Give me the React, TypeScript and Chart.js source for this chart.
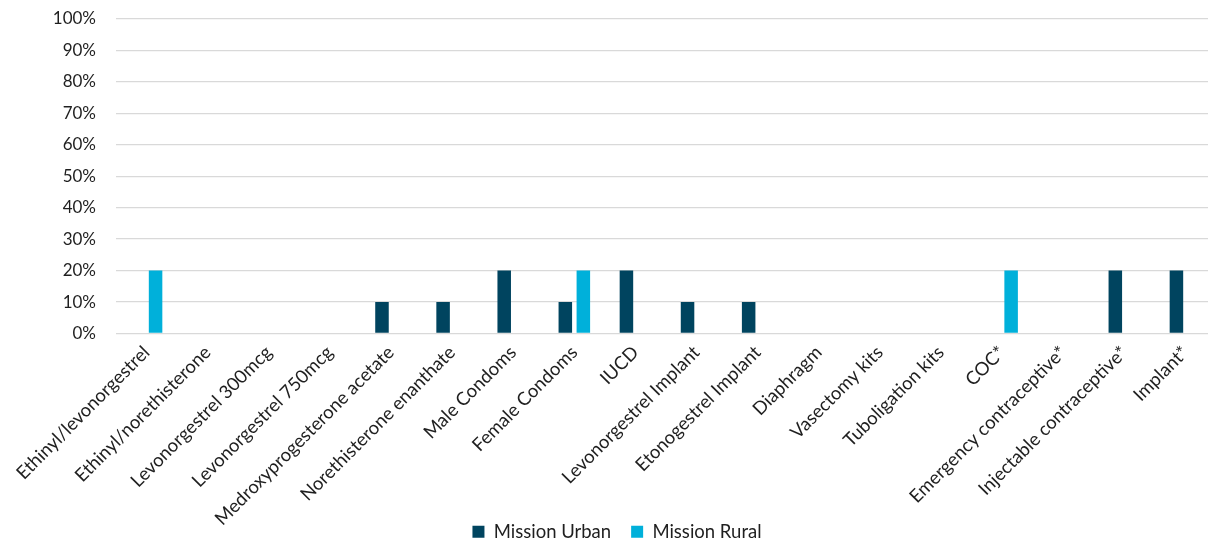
import React, { useEffect, useRef } from "react";
import { Chart, registerables } from "chart.js";

Chart.register(...registerables);

const categories = [
  "Ethinyl/levonorgestrel",
  "Ethinyl/norethisterone",
  "Levonorgestrel 300mcg",
  "Levonorgestrel 750mcg",
  "Medroxyprogesterone acetate",
  "Norethisterone enanthate",
  "Male Condoms",
  "Female Condoms",
  "IUCD",
  "Levonorgestrel Implant",
  "Etonogestrel Implant",
  "Diaphragm",
  "Vasectomy kits",
  "Tuboligation kits",
  "COC*",
  "Emergency contraceptive*",
  "Injectable contraceptive*",
  "Implant*",
];

const missionUrban = [0, 0, 0, 0, 10, 10, 20, 10, 20, 10, 10, 0, 0, 0, 0, 0, 20, 20];
const missionRural = [20, 0, 0, 0, 0, 0, 0, 20, 0, 0, 0, 0, 0, 0, 20, 0, 0, 0];

const yTicks = [0, 10, 20, 30, 40, 50, 60, 70, 80, 90, 100];

const FONT = "Lato";
const TEXT = "#1f1f1f";

const adjustBoxes = {
  id: "adjustBoxes",
  afterLayout(chart: any) {
    const x = chart.scales.x;
    if (x) {
      x.bottom = chart.height;
      x.height = x.bottom - x.top;
    }
    const lg = chart.legend;
    if (lg) {
      lg.left += 9;
      lg.right += 9;
    }
  },
};

export default function App() {
  const ref = useRef<HTMLCanvasElement | null>(null);

  useEffect(() => {
    if (!ref.current) return;
    const chart = new Chart(ref.current, {
      type: "bar",
      data: {
        labels: categories,
        datasets: [
          {
            label: "Mission Urban",
            data: missionUrban,
            backgroundColor: "#00445F",
            borderWidth: 0,
            categoryPercentage: 0.59,
            barPercentage: 0.75,
          },
          {
            label: "Mission Rural",
            data: missionRural,
            backgroundColor: "#00B0DA",
            borderWidth: 0,
            categoryPercentage: 0.59,
            barPercentage: 0.75,
          },
        ],
      },
      plugins: [adjustBoxes],
      options: {
        animation: false,
        responsive: false,
        devicePixelRatio: 1,
        layout: { padding: { top: 19, left: 0, right: 19, bottom: -5 } },
        plugins: {
          tooltip: { enabled: false },
          legend: {
            position: "bottom",
            labels: {
              boxWidth: 12,
              boxHeight: 12,
              padding: 20,
              color: TEXT,
              font: { family: FONT, size: 18.5 },
            },
          },
        },
        scales: {
          x: {
            afterFit: (s: any) => {
              s.height = 169;
            },
            grid: { display: false },
            border: { display: false },
            ticks: {
              autoSkip: false,
              maxRotation: 45,
              minRotation: 45,
              padding: 0,
              color: TEXT,
              font: { family: FONT, size: 18.5 },
            },
          },
          y: {
            min: 0,
            max: 100,
            afterFit: (s: any) => {
              s.width = 116;
              s.paddingTop = 0;
              s.paddingBottom = 0;
            },
            afterBuildTicks: (s: any) => {
              s.ticks = yTicks.map((v) => ({ value: v }));
            },
            grid: { color: "#D9D9D9", lineWidth: 1.3, drawTicks: false },
            border: { display: false },
            ticks: {
              padding: 20,
              color: TEXT,
              font: { family: FONT, size: 17 },
              callback: (v: any) => v + "%",
            },
          },
        },
      },
    });
    return () => chart.destroy();
  }, []);

  return (
    <div
      style={{
        position: "absolute",
        left: 0,
        top: 0,
        width: 1208,
        height: 546,
        overflow: "hidden",
        background: "#fff",
      }}
    >
      <canvas ref={ref} width={1235} height={546} style={{ width: 1235, height: 546, display: "block" }} />
    </div>
  );
}
